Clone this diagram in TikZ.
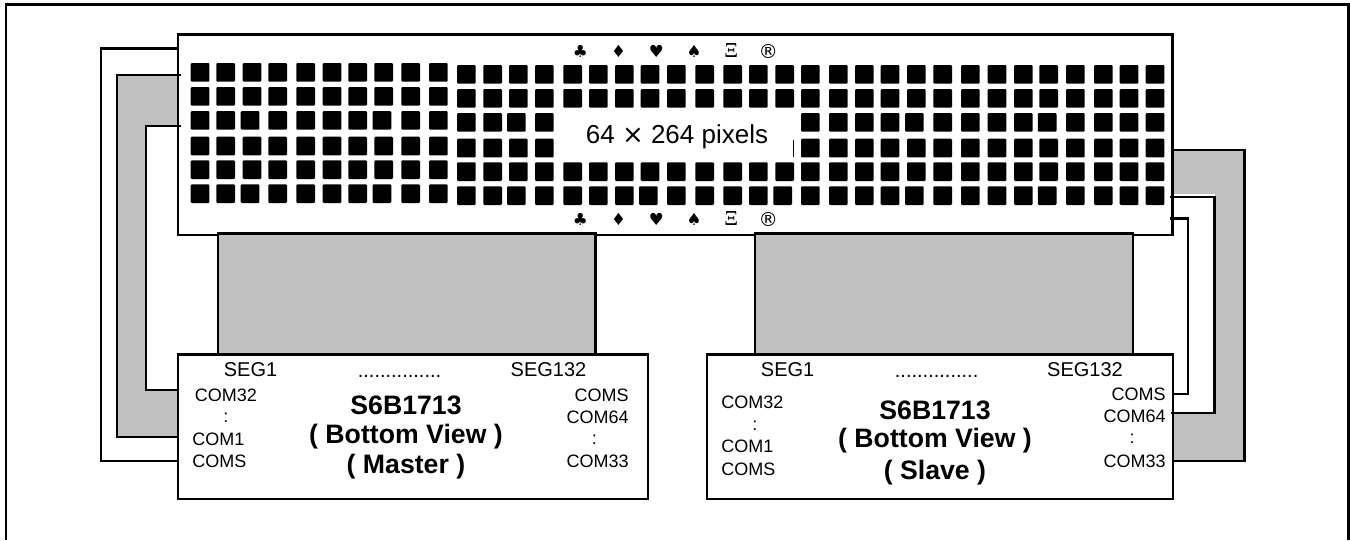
\documentclass[tikz,border=0pt]{standalone}
\usepackage{fontspec}
\setmainfont{Liberation Sans}
\newfontfamily\djv{DejaVu Sans}
\newfontfamily\serf{Liberation Serif}
\definecolor{ribbon}{HTML}{C0C0C0}
\tikzset{
  x=0.75pt,y=-0.75pt,
  wire/.style={line width=1.6pt,line cap=butt,line join=miter},
  box/.style={draw,line width=1.6pt,fill=white,anchor=north west,inner sep=0pt,outer sep=0pt},
  ribbonbox/.style={box,fill=ribbon},
  seg/.style={inner sep=0pt,font=\fontsize{15}{18}\selectfont},
  com/.style={inner sep=0pt,font=\fontsize{13.5}{16}\selectfont},
  comL/.style={com,anchor=west},
  comR/.style={com,anchor=east},
  chiptitle/.style={inner sep=0pt,font=\fontsize{20}{24}\bfseries\selectfont},
  suit/.style={inner sep=0pt,font=\fontsize{12.5}{15}\djv\selectfont},
  pix/.style={fill=black,rounded corners=0.8pt}
}
\begin{document}
\begin{tikzpicture}
\useasboundingbox (0,0) rectangle (1350,540);
\fill[white] (0,0) rectangle (1350,540);
% outer frame, open at the bottom
\draw[wire] (6,540) -- (6,4.5) -- (1348.5,4.5) -- (1348.5,540);
% side ribbons
\fill[ribbon] (117,75) -- (178,75) -- (178,126) -- (146,126) -- (146,390) -- (178,390) -- (178,437) -- (117,437) -- cycle;
\fill[ribbon] (1172,150) -- (1244.5,150) -- (1244.5,461) -- (1173,461) -- (1173,413) -- (1214.5,413) -- (1214.5,197) -- (1172,197) -- cycle;
% panel and chips
\node[box,minimum width=994.5*0.75pt,minimum height=200.5*0.75pt] (panel) at (178,34.5) {};
\node[box,minimum width=470*0.75pt,minimum height=144.5*0.75pt] (master) at (178,354.5) {};
\node[box,minimum width=466*0.75pt,minimum height=144.5*0.75pt] (slave) at (707,354.5) {};
\node[ribbonbox,minimum width=377.5*0.75pt,minimum height=121*0.75pt] (ribA) at (218,233.5) {};
\node[ribbonbox,minimum width=378*0.75pt,minimum height=121*0.75pt] (ribB) at (755,233.5) {};
% heavier top edges of the ribbons, redrawn chip tops where ribbons meet them
\draw[line width=2.2pt] (ribA.north west) -- (ribA.north east);
\draw[line width=2.2pt] (ribB.north west) -- (ribB.north east);
\draw[wire] (master.north west) -- (master.north east);
\draw[wire] (slave.north west) -- (slave.north east);
% pixels
\foreach \x/\s/\g/\b in {190.7/0/0/0,216.3/0/0/0,242.7/-2/0/0,268.3/0/0/0,296.3/0/0/0,322.7/0/0/0,348.3/0/0/0,374.3/-1.7/0/0,401.3/0/0/0,429/0/0/0,
  457/0/2/0,483.3/0/2/0,509/-2/2/0,535/0/2/0,563.3/0/2/1,589/0/2/1,615/0/2/1,640.7/-1.7/2/1,667/0/2/1,695.3/0/2/1,723.3/0/2/1,749/0/2/1,775.3/-2/2/1,
  801/0/2/0,829/0/2/0,855/0/2/0,880.7/0/2/0,907/-2/2/0,933.3/0/2/0,961/0/2/0,987.7/0/2/0,1014/0/2/0,1039.3/-1.5/2/0,1066/0/2/0,1094/0/2/0,1119.7/0/2/0,1145.7/0/2/0}{
  \foreach \r/\y in {0/63,1/87,2/111,3/136.7,4/160.3,5/184.3}{
    \pgfmathtruncatemacro\doskip{and(\b==1,or(\r==2,\r==3))}
    \pgfmathsetmacro\xx{(\r==2||\r==5)?\x+\s:\x}
    \pgfmathsetmacro\yy{\y+\g}
    \ifnum\doskip=0
      \fill[pix] (\xx,\yy) rectangle ++(18.7,18.7);
    \fi
  }
}
\draw[line width=0.75pt] (793.3,139.5) -- (793.3,157);
% panel text
\node[inner sep=0pt,font=\fontsize{19.5}{23}\selectfont] (size) at (677,137) {64 {\djv ×} 264 pixels};
\foreach \n/\yy in {t/51,b/219}{
  \node[suit] (club\n) at (580.3,\yy) {♣};
  \node[suit] (diam\n) at (618.7,\yy) {♦};
  \node[suit] (heart\n) at (656.3,\yy) {♥};
  \node[suit] (spade\n) at (694,\yy) {♠};
  \node[suit,font=\fontsize{16}{18}\serf\selectfont] (xi\n) at (731.3,\yy) {Ξ};
  \node[suit,font=\fontsize{14.5}{16}\djv\selectfont] (reg\n) at (768.3,\yy) {®};
}
% master text
\node[seg] (mSeg1) at (250.5,370) {SEG1};
\node[seg] (mDots) at (399.5,376) {...............};
\node[seg] (mSeg132) at (548.5,370) {SEG132};
\node[comL] (mCom32) at (194.5,395) {COM32};
\node[com] (mColL) at (225.8,418) {:};
\node[comL] (mCom1) at (192,439) {COM1};
\node[comL] (mComs) at (192,461.7) {COMS};
\node[comR] (mComsR) at (629,395) {COMS};
\node[comR] (mCom64) at (629,417.3) {COM64};
\node[com] (mColR) at (594.4,439.3) {:};
\node[comR] (mCom33) at (629,461.7) {COM33};
\node[chiptitle] (mT1) at (406,405) {S6B1713};
\node[chiptitle] (mT2) at (406,436.7) {( Bottom View )};
\node[chiptitle] (mT3) at (406,466.7) {( Master )};
% slave text
\node[seg] (sSeg1) at (787.6,370) {SEG1};
\node[seg] (sDots) at (936.6,376) {...............};
\node[seg] (sSeg132) at (1085,370) {SEG132};
\node[comL] (sCom32) at (721,402.3) {COM32};
\node[com] (sColL) at (754.8,426) {:};
\node[comL] (sCom1) at (721,446.7) {COM1};
\node[comL] (sComs) at (721,469) {COMS};
\node[comR] (sComsR) at (1166,394) {COMS};
\node[comR] (sCom64) at (1166,416.7) {COM64};
\node[com] (sColR) at (1132,439) {:};
\node[comR] (sCom33) at (1166,461.7) {COM33};
\node[chiptitle] (sT1) at (935,410.7) {S6B1713};
\node[chiptitle] (sT2) at (935,441) {( Bottom View )};
\node[chiptitle] (sT3) at (935,472.3) {( Slave )};
% connection points
\coordinate (pL1) at (178,48.5);
\coordinate (pL2) at (181,75);
\coordinate (pL3) at (181,126);
\coordinate (mP1) at (178,461);
\coordinate (mP2) at (178,437);
\coordinate (mP3) at (178,390);
\coordinate (pR1) at (1172,150);
\coordinate (pR2) at (1170,197);
\coordinate (pR3) at (1170,218.5);
\coordinate (sP1) at (1173,461);
\coordinate (sP2) at (1170.5,413);
\coordinate (sP3) at (1173,394);
% connectors
\draw[wire] (pL1) -- ++(-77,0) |- (mP1);
\draw[wire] (pL2) -- ++(-64,0) |- (mP2);
\draw[wire] (pL3) -- ++(-35,0) |- (mP3);
\draw[wire] (pR1) -- ++(72.5,0) |- (sP1);
\draw[white,line width=1.2pt] (1174,195) -- (1215,195);
\draw[wire] (pR2) -- ++(44.5,0) |- (sP2);
\draw[wire] (pR3) -- ++(18,0) |- (sP3);
\end{tikzpicture}
\end{document}
